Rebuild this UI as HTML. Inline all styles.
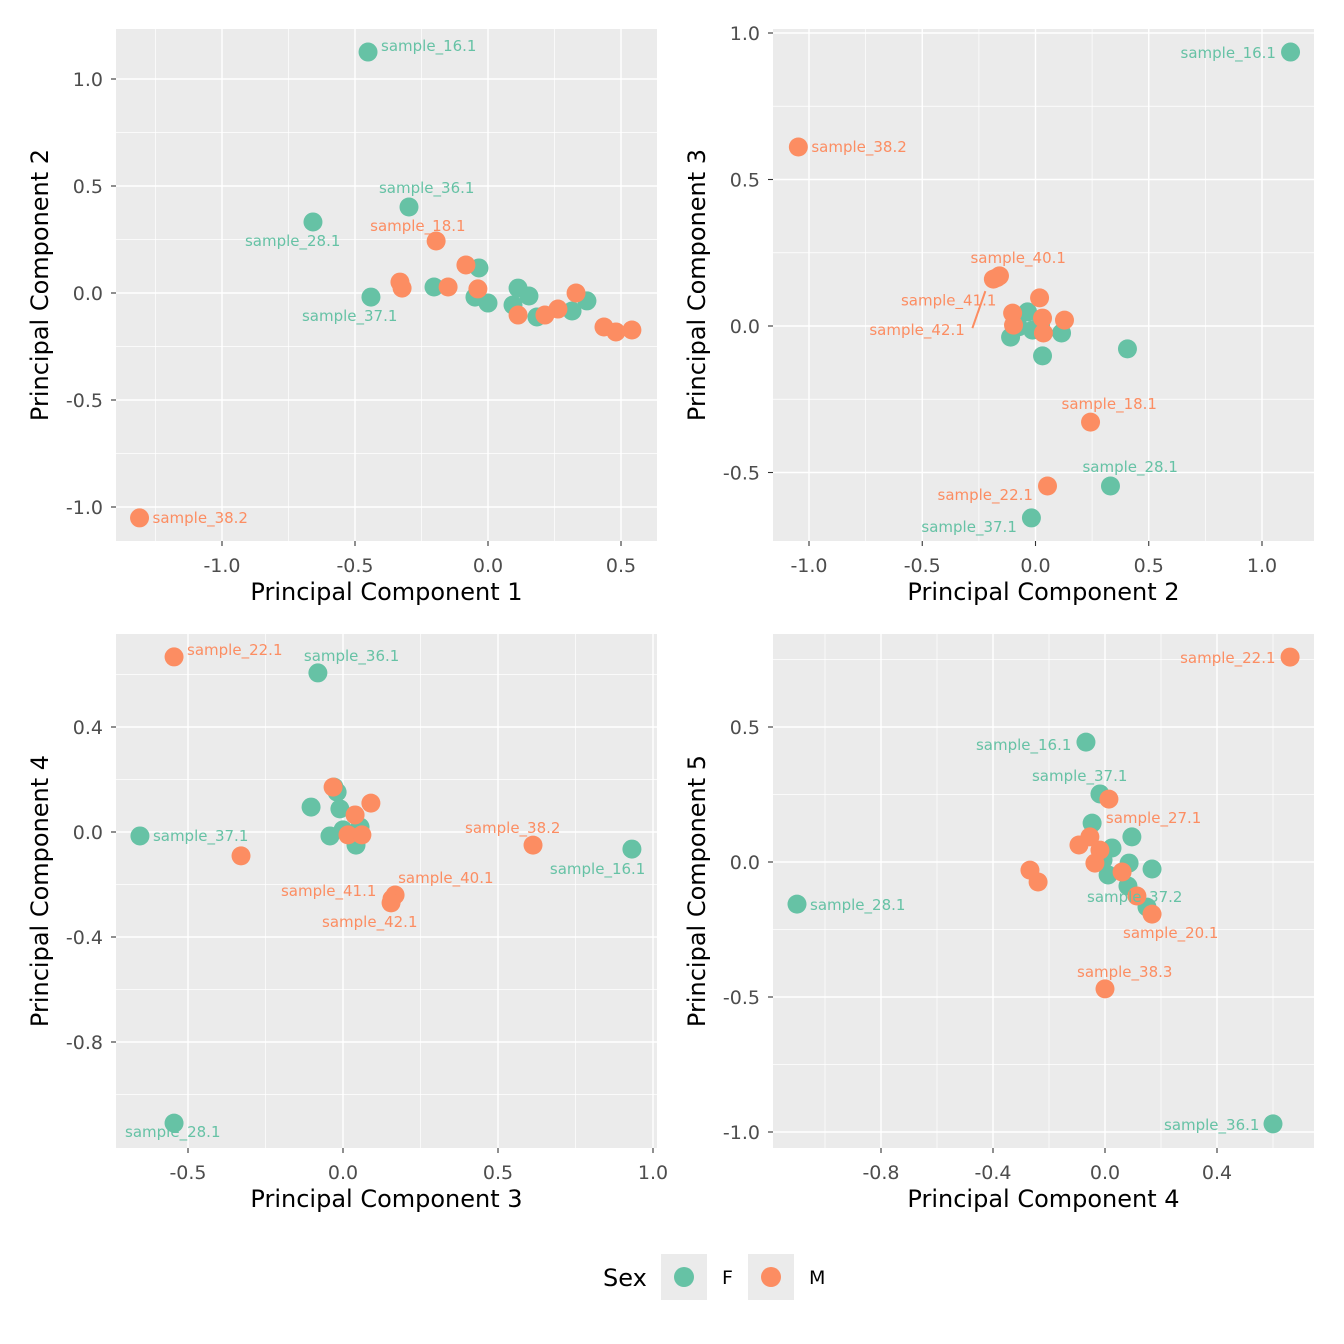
<!DOCTYPE html>
<html><head><meta charset="utf-8"><style>
body{margin:0;background:#fff}
svg{display:block;font-family:"DejaVu Sans","Liberation Sans",sans-serif}
</style></head><body>
<svg id="c" width="1344" height="1344" xmlns="http://www.w3.org/2000/svg"></svg>
<script>
// ---- data (principal component scores) ----
const p1F=[[-0.451,1.126,'sample_16.1'],[-0.297,0.402,'sample_36.1'],[-0.658,0.332,'sample_28.1'],[-0.440,-0.019,'sample_37.1'],[-0.203,0.028,''],[-0.034,0.117,''],[-0.049,-0.019,''],[0.0,-0.047,''],[0.113,0.023,''],[0.094,-0.056,''],[0.154,-0.014,''],[0.184,-0.112,''],[0.316,-0.084,''],[0.372,-0.037,'']];
const p1M=[[-1.310,-1.051,'sample_38.2'],[-0.195,0.243,'sample_18.1'],[-0.331,0.051,''],[-0.323,0.023,''],[-0.150,0.028,''],[-0.083,0.131,''],[-0.038,0.019,''],[0.113,-0.103,''],[0.214,-0.103,''],[0.263,-0.075,''],[0.331,0.0,''],[0.436,-0.159,''],[0.481,-0.182,''],[0.541,-0.173,'']];
const p2F=[[1.126,0.935,'sample_16.1'],[0.406,-0.078,''],[0.331,-0.546,'sample_28.1'],[-0.018,-0.655,'sample_37.1'],[0.031,-0.102,''],[0.115,-0.024,''],[-0.110,-0.038,''],[-0.035,0.048,''],[-0.013,-0.014,''],[0.022,0.003,''],[-0.075,-0.003,'']];
const p2M=[[-1.047,0.611,'sample_38.2'],[-0.159,0.171,'sample_40.1'],[-0.186,0.160,'sample_42.1'],[-0.170,0.165,'sample_41.1'],[0.243,-0.328,'sample_18.1'],[0.053,-0.546,'sample_22.1'],[0.018,0.096,''],[-0.101,0.044,''],[0.031,0.027,''],[0.128,0.020,''],[-0.097,0.003,''],[0.035,-0.024,'']];
const p3F=[[-0.081,0.606,'sample_36.1'],[-0.655,-0.015,'sample_37.1'],[-0.545,-1.109,'sample_28.1'],[0.932,-0.065,'sample_16.1'],[-0.103,0.095,''],[-0.029,0.171,''],[-0.019,0.152,''],[-0.010,0.088,''],[-0.042,-0.015,''],[0.0,0.008,''],[0.042,-0.050,''],[0.055,0.019,'']];
const p3M=[[-0.545,0.667,'sample_22.1'],[-0.329,-0.091,''],[0.613,-0.050,'sample_38.2'],[0.168,-0.240,'sample_40.1'],[0.158,-0.255,'sample_41.1'],[0.155,-0.270,'sample_42.1'],[0.090,0.110,''],[-0.032,0.171,''],[0.039,0.065,''],[0.016,-0.011,''],[0.061,-0.011,'']];
const p4F=[[-0.068,0.444,'sample_16.1'],[-1.1,-0.156,'sample_28.1'],[0.6,-0.970,'sample_36.1'],[-0.018,0.252,'sample_37.1'],[-0.046,0.144,''],[0.096,0.093,''],[0.025,0.052,''],[-0.007,0.007,''],[0.086,-0.004,''],[0.168,-0.026,''],[0.011,-0.048,''],[0.082,-0.089,''],[0.150,-0.167,'sample_37.2']];
const p4M=[[0.661,0.759,'sample_22.1'],[0.0,-0.470,'sample_38.3'],[0.014,0.233,'sample_27.1'],[-0.054,0.093,''],[-0.093,0.063,''],[-0.018,0.044,''],[-0.036,-0.004,''],[0.061,-0.037,''],[-0.268,-0.030,''],[-0.239,-0.074,''],[0.114,-0.126,''],[0.168,-0.193,'sample_20.1']];
// label offsets (style)
const off=[
 {'sample_16.1':[13,-6],'sample_36.1':[-30,-19],'sample_28.1':[-68,19],'sample_37.1':[-69,19],'sample_18.1':[-66,-15],'sample_38.2':[13,0]},
 {'sample_16.1':[-110,1],'sample_38.2':[13,0],'sample_40.1':[-29,-18],'sample_41.1':[-96,23],'sample_42.1':[-124,51],'sample_18.1':[-29,-18],'sample_22.1':[-110,9],'sample_28.1':[-28,-19],'sample_37.1':[-110,9]},
 {'sample_22.1':[13,-7],'sample_36.1':[-14,-17],'sample_37.1':[13,0],'sample_28.1':[-49,9],'sample_16.1':[-82,20],'sample_38.2':[-68,-17],'sample_40.1':[3,-17],'sample_41.1':[-111,-8],'sample_42.1':[-69,19]},
 {'sample_22.1':[-110,1],'sample_16.1':[-110,3],'sample_37.1':[-68,-18],'sample_27.1':[-3,19],'sample_28.1':[13,1],'sample_37.2':[-60,-10],'sample_20.1':[-29,19],'sample_38.3':[-28,-17],'sample_36.1':[-109,1]}
];
const panels=[
 {L:116,T:29,R:657,B:541,xa:[-1.0,222,0.5,621],ya:[1.0,79,0.5,186],xt:[-1,-0.5,0,0.5],yt:[-1,-0.5,0,0.5,1],xm:[-1.25,-0.75,-0.25,0.25],ym:[-1.25,-0.75,-0.25,0.25,0.75],xl:'Principal Component 1',yl:'Principal Component 2',F:p1F,M:p1M},
 {L:773,T:29,R:1314,B:541,xa:[-1.0,809,1.0,1262],ya:[1.0,33,0,326],xt:[-1,-0.5,0,0.5,1],yt:[-0.5,0,0.5,1],xm:[-0.75,-0.25,0.25,0.75],ym:[-0.75,-0.25,0.25,0.75],xl:'Principal Component 2',yl:'Principal Component 3',F:p2F,M:p2M},
 {L:116,T:634,R:657,B:1148,xa:[-0.5,188,1.0,653],ya:[0.4,727,-0.8,1042],xt:[-0.5,0,0.5,1],yt:[-0.8,-0.4,0,0.4],xm:[-0.75,-0.25,0.25,0.75],ym:[-1.0,-0.6,-0.2,0.2,0.6],xl:'Principal Component 3',yl:'Principal Component 4',F:p3F,M:p3M},
 {L:773,T:634,R:1314,B:1148,xa:[-0.8,881,0.4,1217],ya:[0.5,727,-1.0,1132],xt:[-0.8,-0.4,0,0.4],yt:[-1,-0.5,0,0.5],xm:[-1.0,-0.6,-0.2,0.2,0.6],ym:[-0.75,-0.25,0.25,0.75],xl:'Principal Component 4',yl:'Principal Component 5',F:p4F,M:p4M}
];
const CF='#66C2A5',CM='#FC8D62';
const svg=document.getElementById('c');
const NS='http://www.w3.org/2000/svg';
function mk(t,a,p){const e=document.createElementNS(NS,t);for(const k in a)e.setAttribute(k,a[k]);(p||svg).appendChild(e);return e;}
function lin(a){const s=(a[3]-a[1])/(a[2]-a[0]);return v=>a[1]+(v-a[0])*s;}
function f(v){return (Math.abs(v)<1e-9?0:v).toFixed(1);}
panels.forEach((P,pi)=>{
 const g=mk('g',{});
 
 
 const X=lin(P.xa),Y=lin(P.ya);
 const bg=mk('rect',{x:P.L,y:P.T,width:P.R-P.L,height:P.B-P.T,fill:'#EBEBEB'},g);
 
 
 P.xm.forEach(v=>{const x=X(v);if(x>P.L&&x<P.R)mk('line',{x1:x,x2:x,y1:P.T,y2:P.B,stroke:'#fff','stroke-width':0.7},g);});
 P.ym.forEach(v=>{const y=Y(v);if(y>P.T&&y<P.B)mk('line',{x1:P.L,x2:P.R,y1:y,y2:y,stroke:'#fff','stroke-width':0.7},g);});
 P.xt.forEach(v=>{const x=X(v);mk('line',{x1:x,x2:x,y1:P.T,y2:P.B,stroke:'#fff','stroke-width':1.4},g);
  mk('line',{x1:x,x2:x,y1:P.B,y2:P.B+5,stroke:'#333','stroke-width':1.1},g);
  const t=mk('text',{x:x,y:P.B+31,'text-anchor':'middle','font-size':19,fill:'#4D4D4D'},g);t.textContent=f(v);
  });
 P.yt.forEach(v=>{const y=Y(v);mk('line',{x1:P.L,x2:P.R,y1:y,y2:y,stroke:'#fff','stroke-width':1.4},g);
  mk('line',{x1:P.L-5,x2:P.L,y1:y,y2:y,stroke:'#333','stroke-width':1.1},g);
  const t=mk('text',{x:P.L-13,y:y+7,'text-anchor':'end','font-size':19,fill:'#4D4D4D'},g);t.textContent=f(v);
  });
 const xt=mk('text',{x:(P.L+P.R)/2,y:P.B+59,'text-anchor':'middle','font-size':24,fill:'#000'},g);xt.textContent=P.xl;
 
 const cy=(P.T+P.B)/2;
 const yt=mk('text',{x:0,y:0,'text-anchor':'middle','font-size':24,fill:'#000',transform:`translate(${P.L-68},${cy}) rotate(-90)`},g);yt.textContent=P.yl;
 
 if(pi===1){const O=off[1]['sample_42.1'];const pt=P.M[2];const px=X(pt[0]),py=Y(pt[1]);
  mk('line',{x1:px+O[0]+103,y1:py+O[1]-2,x2:px-8,y2:py+12,stroke:CM,'stroke-width':2},g);}
 [[P.F,CF,'F'],[P.M,CM,'M']].forEach(([arr,col,s])=>{arr.forEach(d=>{
  const c=mk('circle',{cx:X(d[0]),cy:Y(d[1]),r:9.5,fill:col},g);
  
  });});
 [[P.F,CF],[P.M,CM]].forEach(([arr,col])=>{arr.forEach(d=>{if(!d[2])return;const o=off[pi][d[2]];if(!o)return;
  const t=mk('text',{x:X(d[0])+o[0],y:Y(d[1])+o[1]+5,'font-size':15,fill:col},g);t.textContent=d[2];
  });});
});
// legend
const lg=mk('g',{});


const lt=mk('text',{x:603,y:1286,'font-size':24,fill:'#000'},lg);lt.textContent='Sex';

[[661,CF,'F'],[748,CM,'M']].forEach(([x,col,s])=>{
 mk('rect',{x:x,y:1254,width:46,height:46,fill:'#EBEBEB'},lg);
 const c=mk('circle',{cx:x+23,cy:1277,r:10,fill:col},lg);
 
 const t=mk('text',{x:x+61,y:1284,'font-size':19,fill:'#000'},lg);t.textContent=s;
 
});
</script>
</body></html>
